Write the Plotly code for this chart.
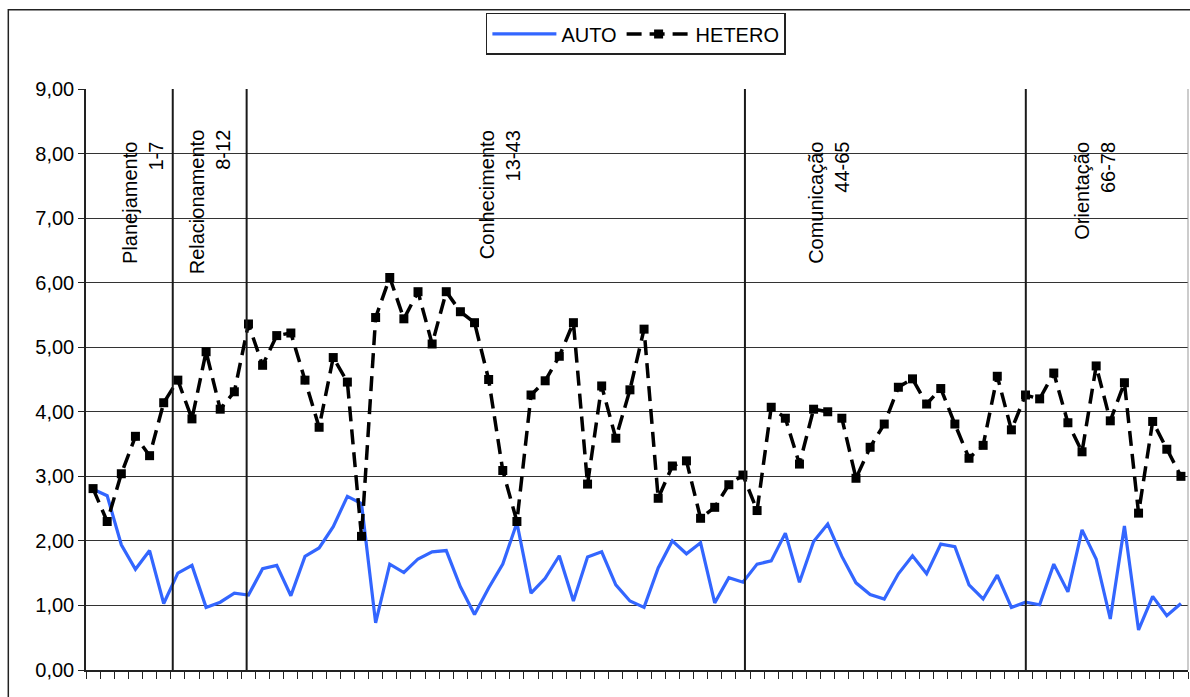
import plotly.graph_objects as go

items = list(range(1, 79))

auto = [2.80, 2.70, 1.94, 1.56, 1.85, 1.03, 1.50, 1.62, 0.97, 1.05,
        1.19, 1.16, 1.57, 1.62, 1.15, 1.76, 1.89, 2.22, 2.69, 2.58,
        0.73, 1.64, 1.51, 1.72, 1.83, 1.85, 1.29, 0.86, 1.27, 1.64,
        2.28, 1.19, 1.42, 1.77, 1.07, 1.75, 1.83, 1.32, 1.07, 0.97,
        1.58, 2.00, 1.80, 1.97, 1.04, 1.43, 1.36, 1.64, 1.69, 2.12,
        1.36, 1.99, 2.26, 1.76, 1.35, 1.17, 1.10, 1.49, 1.77, 1.49,
        1.95, 1.91, 1.32, 1.10, 1.47, 0.97, 1.05, 1.01, 1.64, 1.21,
        2.17, 1.72, 0.79, 2.23, 0.62, 1.14, 0.84, 1.03]

hetero = [2.81, 2.30, 3.04, 3.62, 3.32, 4.14, 4.49, 3.89, 4.93, 4.04,
          4.31, 5.36, 4.72, 5.18, 5.22, 4.49, 3.76, 4.84, 4.46, 2.07,
          5.46, 6.08, 5.44, 5.86, 5.05, 5.86, 5.55, 5.38, 4.50, 3.09,
          2.30, 4.26, 4.48, 4.86, 5.38, 2.88, 4.40, 3.59, 4.34, 5.28,
          2.66, 3.16, 3.24, 2.35, 2.52, 2.87, 3.02, 2.47, 4.07, 3.90,
          3.19, 4.04, 4.00, 3.90, 2.97, 3.45, 3.81, 4.38, 4.51, 4.12,
          4.36, 3.81, 3.28, 3.48, 4.55, 3.72, 4.26, 4.20, 4.60, 3.83,
          3.38, 4.71, 3.86, 4.45, 2.43, 3.85, 3.42, 3.00]

group_names = ["Planejamento", "Relacionamento", "Conhecimento", "Comunicação", "Orientação"]
group_ranges = ["1-7", "8-12", "13-43", "44-65", "66-78"]

# layout helpers (positions in axis units)
divider_x = [6.64, 11.87, 47.14, 67.02]
label_x = [4.53, 9.28, 29.8, 53.08, 71.9]
label_top = [8.21, 8.40, 8.40, 8.21, 8.21]

yticks = [0, 1, 2, 3, 4, 5, 6, 7, 8, 9]

FONT = "Liberation Sans, Arial, sans-serif"

fig = go.Figure()
fig.add_trace(go.Scatter(
    x=items, y=auto, mode="lines", name="AUTO",
    line=dict(color="#3366FF", width=3.2),
))
fig.add_trace(go.Scatter(
    x=items, y=hetero, mode="lines+markers", name="HETERO",
    line=dict(color="black", width=3.5, dash="15px,8px"),
    marker=dict(symbol="square", size=9, color="black"),
))

shapes = []
for xv in divider_x:
    shapes.append(dict(type="line", xref="x", yref="y", x0=xv, x1=xv, y0=0, y1=9,
                       line=dict(color="#1a1a1a", width=2), layer="above"))
# right border of plot area
shapes.append(dict(type="line", xref="paper", yref="paper", x0=1, x1=1, y0=0, y1=1,
                   line=dict(color="#999999", width=1)))
# outer chart border
shapes.append(dict(type="rect", xref="paper", yref="paper",
                   x0=-0.0705, x1=1.2, y0=-0.3, y1=1.1366,
                   line=dict(color="#222222", width=1.5)))
fig.update_layout(shapes=shapes)

for name, rng, xv, yt in zip(group_names, group_ranges, label_x, label_top):
    fig.add_annotation(x=xv, y=yt, xref="x", yref="y", text=f"{name}<br>{rng}",
                       showarrow=False, textangle=-90, align="right",
                       xanchor="center", yanchor="top",
                       font=dict(family=FONT, size=20, color="black"))

fig.update_layout(
    width=1190, height=697,
    margin=dict(l=86, r=2, t=89.3, b=27),
    paper_bgcolor="white", plot_bgcolor="white",
    separators=",.",
    font=dict(family=FONT, size=20, color="black"),
    showlegend=True,
    legend=dict(orientation="h", x=0.499, xanchor="center", y=1.131, yanchor="top",
                bordercolor="#222222", borderwidth=1.5, bgcolor="white",
                font=dict(family=FONT, size=20, color="black"),
                itemwidth=64, tracegroupgap=0),
    xaxis=dict(range=[0.5, 78.5], showgrid=False, zeroline=False,
               showline=True, linecolor="#222222", linewidth=1.5,
               ticks="outside", ticklen=7, tickwidth=1, tickcolor="#222222",
               tickmode="linear", tick0=0.5, dtick=1, showticklabels=False),
    yaxis=dict(range=[0, 9], tickvals=yticks, tickformat=".2f",
               showgrid=True, gridcolor="#333333", gridwidth=1,
               zeroline=False, showline=True, linecolor="#222222", linewidth=1.5,
               ticks="outside", ticklen=6, tickwidth=1, tickcolor="#222222",
               tickfont=dict(family=FONT, size=20, color="black")),
)

fig.write_html("out.html", config={"displayModeBar": False},
               post_script="document.body.style.margin='0';document.body.style.overflow='hidden';")
